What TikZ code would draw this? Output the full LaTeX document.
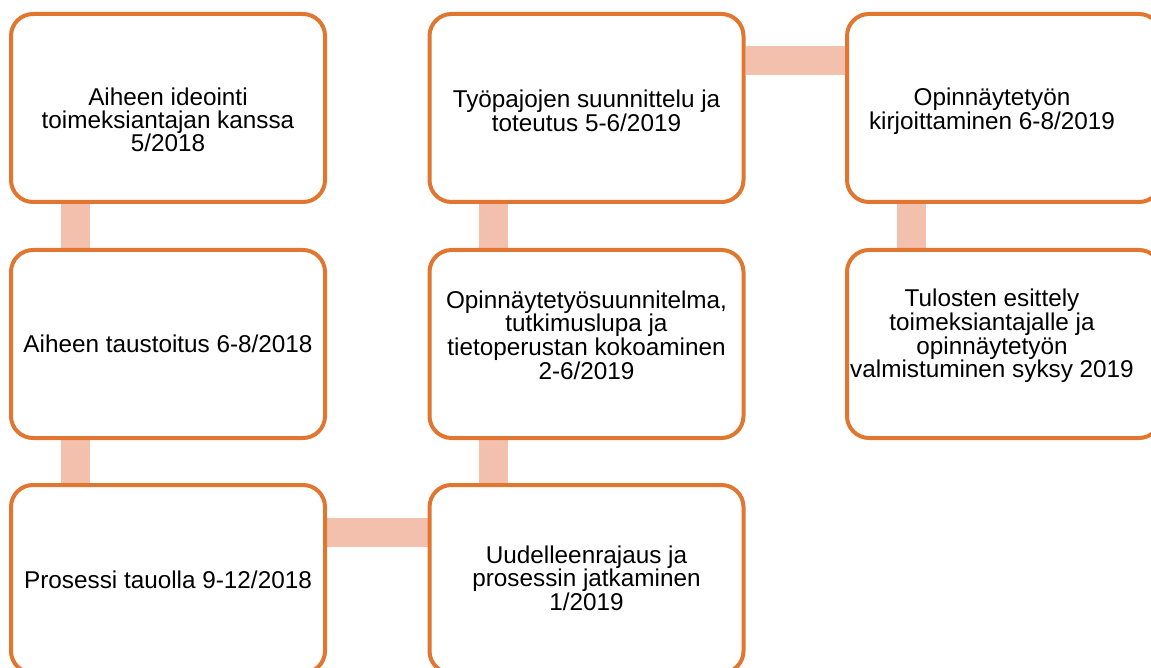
\documentclass[tikz,border=0pt]{standalone}
\usepackage{fontspec}
\setmainfont{Liberation Sans}
\usetikzlibrary{backgrounds}
\definecolor{boxorange}{HTML}{E0762F}
\definecolor{barpink}{HTML}{F4C0AE}
\tikzset{
  phase/.style={draw=boxorange, fill=white, line width=4pt, rounded corners=22pt,
    minimum width=314pt, minimum height=188pt, inner sep=0pt},
  phasetext/.style={align=center, inner sep=0pt,
    font=\fontsize{24.3}{22.6}\selectfont},
  bar/.style={draw=barpink, line width=29pt}
}
\begin{document}
\begin{tikzpicture}[x=1pt,y=-1pt]
  \useasboundingbox (0,0) rectangle (1151,668);
  \clip (0,0) rectangle (1151,668);
  % boxes, column by column
  \node[phase] (idea) at (168,108) {};
  \node[phase] (tausta) at (168,344) {};
  \node[phase] (tauko) at (168,579) {};
  \node[phase] (rajaus) at (586.5,579) {};
  \node[phase] (suunnitelma) at (586.5,344) {};
  \node[phase] (tyopajat) at (586.5,108) {};
  \node[phase] (kirjoitus) at (1004,108) {};
  \node[phase] (tulokset) at (1004,344) {};
  % texts
  \node[phasetext] (t1) at (168,120) {Aiheen ideointi\\toimeksiantajan kanssa\\5/2018};
  \node[phasetext] (t2) at (168,344) {Aiheen taustoitus 6-8/2018};
  \node[phasetext] (t3) at (168,580) {Prosessi tauolla 9-12/2018};
  \node[phasetext] (t4) at (586.5,578) {Uudelleenrajaus ja\\prosessin jatkaminen\\1/2019};
  \node[phasetext] (t5) at (586.5,335) {Opinnäytetyösuunnitelma,\\tutkimuslupa ja\\tietoperustan kokoaminen\\2-6/2019};
  \node[phasetext] (t6) at (586.5,111) {Työpajojen suunnittelu ja\\toteutus 5-6/2019};
  \node[phasetext] (t7) at (992,111) {Opinnäytetyön\\kirjoittaminen 6-8/2019};
  \node[phasetext] (t8) at (992,336) {Tulosten esittely\\toimeksiantajalle ja\\opinnäytetyön\\valmistuminen syksy 2019};
  % connecting bars behind the boxes
  \begin{pgfonlayer}{background}
    \draw[bar] ([xshift=-93pt]idea.south) -- ([xshift=-93pt]tausta.north);
    \draw[bar] ([xshift=-93pt]tausta.south) -- ([xshift=-93pt]tauko.north);
    \draw[bar] ([yshift=47pt]tauko.east) -- ([yshift=47pt]rajaus.west);
    \draw[bar] ([xshift=-93pt]rajaus.north) -- ([xshift=-93pt]suunnitelma.south);
    \draw[bar] ([xshift=-93pt]suunnitelma.north) -- ([xshift=-93pt]tyopajat.south);
    \draw[bar] ([yshift=47pt]tyopajat.east) -- ([yshift=47pt]kirjoitus.west);
    \draw[bar] ([xshift=-92.5pt]kirjoitus.south) -- ([xshift=-92.5pt]tulokset.north);
  \end{pgfonlayer}
\end{tikzpicture}
\end{document}
